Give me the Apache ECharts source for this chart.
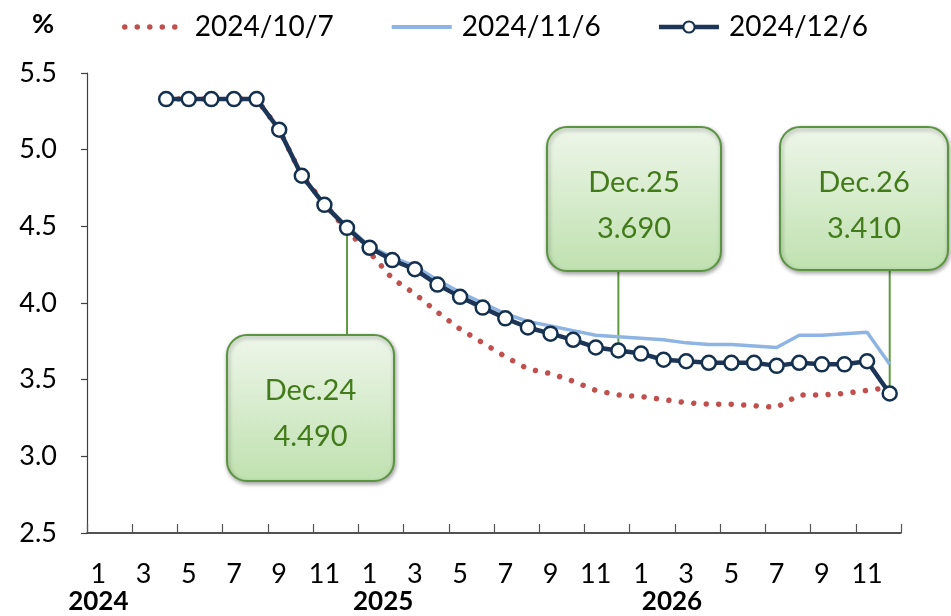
<!DOCTYPE html>
<html>
<head>
<meta charset="utf-8">
<script src="https://cdn.jsdelivr.net/npm/echarts@6/dist/echarts.min.js"></script>
<style>
  html, body { margin: 0; padding: 0; background: #fff; }
  #chart { width: 951px; height: 616px; }
</style>
</head>
<body>
<div id="chart"></div>
<script>
// Monthly categories, Jan 2024 .. Dec 2026
const categories = [
  '2024/1','2024/2','2024/3','2024/4','2024/5','2024/6','2024/7','2024/8','2024/9','2024/10','2024/11','2024/12',
  '2025/1','2025/2','2025/3','2025/4','2025/5','2025/6','2025/7','2025/8','2025/9','2025/10','2025/11','2025/12',
  '2026/1','2026/2','2026/3','2026/4','2026/5','2026/6','2026/7','2026/8','2026/9','2026/10','2026/11','2026/12'
];

// Implied policy-rate path (%) as of three observation dates
const path20241007 = [
  '-', '-', '-', 5.33, 5.33, 5.33, 5.33, 5.33, 5.13, 4.83, 4.65, 4.47,
  4.33, 4.16, 4.06, 3.94, 3.83, 3.74, 3.65, 3.57, 3.54, 3.49, 3.43, 3.40,
  3.39, 3.37, 3.35, 3.34, 3.34, 3.33, 3.32, 3.40, 3.40, 3.41, 3.43, 3.45
];
const path20241106 = [
  '-', '-', '-', 5.33, 5.33, 5.33, 5.33, 5.33, 5.13, 4.83, 4.64, 4.50,
  4.37, 4.30, 4.24, 4.15, 4.07, 4.00, 3.93, 3.88, 3.85, 3.82, 3.79, 3.78,
  3.77, 3.76, 3.74, 3.73, 3.73, 3.72, 3.71, 3.79, 3.79, 3.80, 3.81, 3.60
];
const path20241206 = [
  '-', '-', '-', 5.33, 5.33, 5.33, 5.33, 5.33, 5.13, 4.83, 4.64, 4.49,
  4.36, 4.28, 4.22, 4.12, 4.04, 3.97, 3.90, 3.84, 3.80, 3.76, 3.71, 3.69,
  3.67, 3.63, 3.62, 3.61, 3.61, 3.61, 3.59, 3.61, 3.60, 3.60, 3.62, 3.41
];

const seriesNames = ['2024/10/7', '2024/11/6', '2024/12/6'];
const yTicks = { min: 2.5, max: 5.5, step: 0.5 };

// Year-end callouts on the latest path
const calloutNames = ['Dec.24', 'Dec.25', 'Dec.26'];
const calloutMonths = ['2024/12', '2025/12', '2026/12'];

const FONT = 'Lato, "Noto Sans", sans-serif';
const GREEN_TEXT = '#437A1A';
const RED = '#C0504D';
const BLUE = '#8DB4E2';
const NAVY = '#1D3557';

const redDots = { color: RED, width: 5.5, type: [0.01, 12.5], cap: 'round' };

const chart = echarts.init(document.getElementById('chart'), null, { renderer: 'canvas' });

chart.setOption({
  animation: false,
  backgroundColor: '#ffffff',
  textStyle: { fontFamily: FONT },
  title: {
    text: '%',
    left: 27, top: 6,
    textStyle: { fontFamily: FONT, fontSize: 27, fontWeight: 'bold', color: '#000' }
  },
  legend: {
    left: 117, top: 8,
    itemWidth: 60, itemHeight: 14, itemGap: 56,
    textStyle: { fontFamily: FONT, fontSize: 28, color: '#000', padding: [0, 0, 0, 5] },
    data: [
      { name: seriesNames[0], lineStyle: redDots, itemStyle: { opacity: 0 } },
      { name: seriesNames[1], lineStyle: { color: BLUE, width: 4 }, itemStyle: { opacity: 0 } },
      { name: seriesNames[2], lineStyle: { color: NAVY, width: 4.5 } }
    ]
  },
  grid: { left: 87, right: 50, top: 73, bottom: 83, containLabel: false },
  xAxis: {
    type: 'category',
    data: categories,
    boundaryGap: true,
    axisLine: { lineStyle: { color: '#1a1a1a', width: 1.5 } },
    axisTick: { show: true, inside: true, length: 9, interval: 1, lineStyle: { color: '#555', width: 1.2 } },
    axisLabel: {
      interval: 1,
      margin: 27,
      formatter: function (v) {
        const parts = v.split('/');
        if (parts[1] === '1') return '{m|1}\n{y' + parts[0] + '|' + parts[0] + '}';
        return '{m|' + parts[1] + '}';
      },
      rich: {
        m: { fontFamily: FONT, fontSize: 27, color: '#000', lineHeight: 28 },
        y2024: { fontFamily: FONT, fontSize: 26, fontWeight: 'bold', color: '#000', lineHeight: 28 },
        y2025: { fontFamily: FONT, fontSize: 26, fontWeight: 'bold', color: '#000', lineHeight: 28, padding: [0, 0, 0, 27] },
        y2026: { fontFamily: FONT, fontSize: 26, fontWeight: 'bold', color: '#000', lineHeight: 28, padding: [0, 0, 0, 62] }
      }
    },
    splitLine: { show: false }
  },
  yAxis: {
    type: 'value',
    min: yTicks.min, max: yTicks.max, interval: yTicks.step,
    axisLine: { show: true, lineStyle: { color: '#404040', width: 1.2 } },
    axisTick: { show: true, inside: false, length: 6, lineStyle: { color: '#404040', width: 1.2 } },
    axisLabel: {
      margin: 30,
      fontFamily: FONT, fontSize: 27, color: '#000',
      formatter: function (v) { return v.toFixed(1); }
    },
    splitLine: { show: false }
  },
  series: [
    {
      name: seriesNames[0],
      type: 'line',
      data: path20241007,
      symbol: 'none',
      z: 3,
      lineStyle: redDots,
      itemStyle: { color: RED }
    },
    {
      name: seriesNames[1],
      type: 'line',
      data: path20241106,
      symbol: 'none',
      z: 4,
      lineStyle: { color: BLUE, width: 3.5 },
      itemStyle: { color: BLUE }
    },
    {
      name: seriesNames[2],
      type: 'line',
      data: path20241206,
      symbol: 'circle',
      symbolSize: 14,
      showAllSymbol: true,
      z: 5,
      lineStyle: { color: NAVY, width: 4.5 },
      itemStyle: { color: '#ffffff', borderColor: '#14304F', borderWidth: 2.5 }
    }
  ]
});

// Callout boxes: [left, top, width, height] in chart pixels
const calloutBoxes = [
  [227, 335, 167, 146],
  [547, 127, 174, 144],
  [780, 127, 168, 143]
];

const graphics = [];
calloutNames.forEach(function (name, i) {
  const idx = categories.indexOf(calloutMonths[i]);
  const value = path20241206[idx];
  const pt = chart.convertToPixel({ seriesIndex: 2 }, [idx, value]);
  const b = calloutBoxes[i];
  const boxBelow = b[1] > pt[1];
  // leader line from the data point to the box edge
  graphics.push({
    type: 'line',
    z: 1,
    shape: { x1: pt[0], y1: pt[1], x2: pt[0], y2: boxBelow ? b[1] : b[1] + b[3] },
    style: { stroke: '#5E9A42', lineWidth: 2 }
  });
  graphics.push({
    type: 'rect',
    z: 10,
    shape: { x: b[0], y: b[1], width: b[2], height: b[3], r: 20 },
    style: {
      fill: new echarts.graphic.LinearGradient(0, 0, 0, 1, [
        { offset: 0, color: '#EEF6EA' },
        { offset: 1, color: '#BFE1AF' }
      ]),
      stroke: '#5B9440',
      lineWidth: 2,
      shadowBlur: 4,
      shadowOffsetX: 1,
      shadowOffsetY: 2,
      shadowColor: 'rgba(0,0,0,0.35)'
    }
  });
  graphics.push({
    type: 'text',
    z: 11,
    x: b[0] + b[2] / 2,
    y: b[1] + 56,
    style: {
      text: name,
      fill: GREEN_TEXT,
      font: '29px ' + FONT,
      align: 'center',
      verticalAlign: 'middle'
    }
  });
  graphics.push({
    type: 'text',
    z: 11,
    x: b[0] + b[2] / 2,
    y: b[1] + 102,
    style: {
      text: value.toFixed(3),
      fill: GREEN_TEXT,
      font: '29px ' + FONT,
      align: 'center',
      verticalAlign: 'middle'
    }
  });
});

chart.setOption({ graphic: graphics });
</script>
</body>
</html>
